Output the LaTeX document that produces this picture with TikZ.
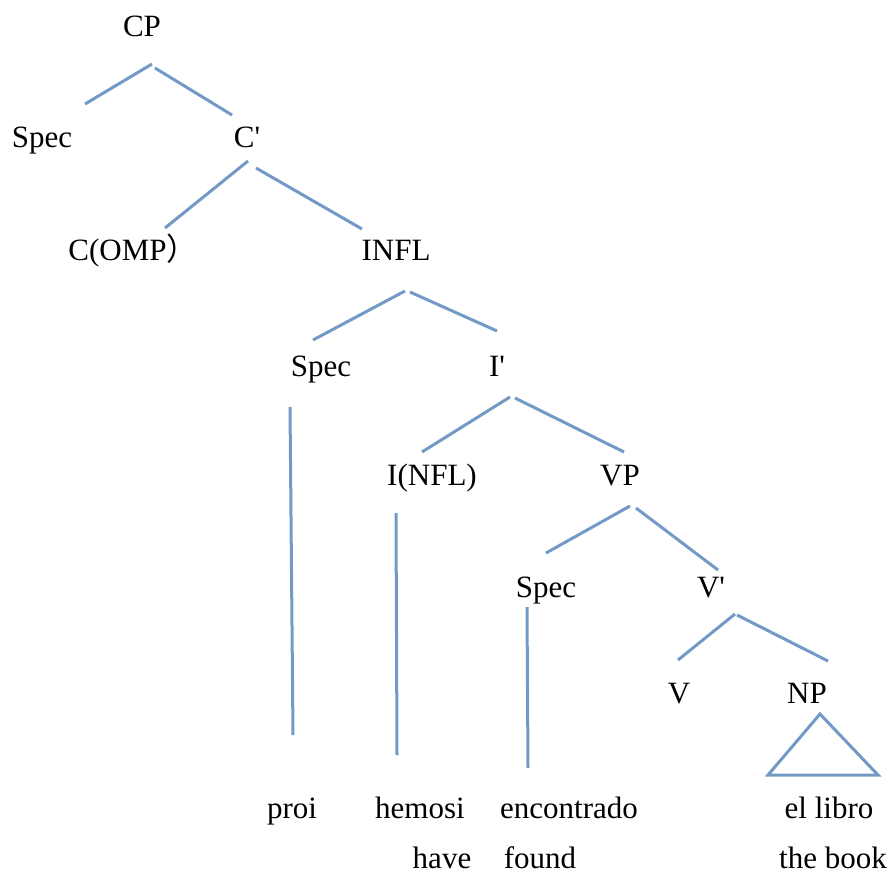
\documentclass[tikz,border=0pt]{standalone}
\usepackage{fontspec}
\setmainfont{Liberation Serif}
\newfontfamily\cjk{Noto Sans CJK SC}
\usepackage{xcolor}
\definecolor{BranchBlue}{HTML}{7399C6}

\begin{document}
\begin{tikzpicture}[x=1pt, y=-1pt, every node/.style={font=\fontsize{31}{37}\selectfont, inner sep=0pt, anchor=base}, branch/.style={draw=BranchBlue, line width=3pt}]
  \useasboundingbox (0,0) rectangle (891,875);
  % category labels (placed at their baselines)
  \node (cp) at (142,37) {CP};
  \node (spec1) at (42,147) {Spec};
  \node (cbar) at (247,147) {C\textquotesingle};
  \node (comp) at (133,260) {C(OMP{\cjk ）}};
  \node (infl) at (396,260) {INFL};
  \node (spec2) at (321,376) {Spec};
  \node (ibar) at (497,376) {I\textquotesingle};
  \node (i) at (432,485) {I(NFL)};
  \node (vp) at (620,485) {VP};
  \node (spec3) at (546,597) {Spec};
  \node (vbar) at (711,597) {V\textquotesingle};
  \node (v) at (679,703) {V};
  \node (np) at (807,703) {NP};
  % words and glosses
  \node (pro) at (292,818) {proi};
  \node (hemos) at (420,818) {hemosi};
  \node (encontrado) at (569,818) {encontrado};
  \node (libro) at (829,818) {el libro};
  \node (have) at (442,868) {have};
  \node (found) at (540,868) {found};
  \node (book) at (833,868) {the book};
  % branch ends
  \coordinate (cp-l) at (85,104);   \coordinate (cp-a) at (152,64);
  \coordinate (cp-b) at (155,68);   \coordinate (cp-r) at (232,115);
  \coordinate (cbar-l) at (165,228); \coordinate (cbar-a) at (248,161);
  \coordinate (cbar-b) at (256,168); \coordinate (cbar-r) at (362,229);
  \coordinate (infl-l) at (313,340); \coordinate (infl-a) at (405,291);
  \coordinate (infl-b) at (410,292); \coordinate (infl-r) at (497,331);
  \coordinate (ibar-l) at (422,452); \coordinate (ibar-a) at (510,397);
  \coordinate (ibar-b) at (515,398); \coordinate (ibar-r) at (624,452);
  \coordinate (vp-l) at (546,553);   \coordinate (vp-a) at (630,506);
  \coordinate (vp-b) at (636,508);   \coordinate (vp-r) at (718,570);
  \coordinate (vbar-l) at (678,660); \coordinate (vbar-a) at (735,614);
  \coordinate (vbar-b) at (737,615); \coordinate (vbar-r) at (828,661);
  \coordinate (spec2-t) at (290,407); \coordinate (spec2-d) at (293,735);
  \coordinate (i-t) at (396,513);     \coordinate (i-d) at (397,755);
  \coordinate (spec3-t) at (527,607); \coordinate (spec3-d) at (528,768);
  \coordinate (np-a) at (820,714);
  \coordinate (np-l) at (768,775);    \coordinate (np-r) at (878,775);
  % branches
  \draw[branch] (cp-l) -- (cp-a);     \draw[branch] (cp-b) -- (cp-r);
  \draw[branch] (cbar-l) -- (cbar-a); \draw[branch] (cbar-b) -- (cbar-r);
  \draw[branch] (infl-l) -- (infl-a); \draw[branch] (infl-b) -- (infl-r);
  \draw[branch] (ibar-l) -- (ibar-a); \draw[branch] (ibar-b) -- (ibar-r);
  \draw[branch] (vp-l) -- (vp-a);     \draw[branch] (vp-b) -- (vp-r);
  \draw[branch] (vbar-l) -- (vbar-a); \draw[branch] (vbar-b) -- (vbar-r);
  \draw[branch] (spec2-t) -- (spec2-d);
  \draw[branch] (i-t) -- (i-d);
  \draw[branch] (spec3-t) -- (spec3-d);
  \draw[branch] (np-a) -- (np-l) -- (np-r) -- cycle;
\end{tikzpicture}
\end{document}
